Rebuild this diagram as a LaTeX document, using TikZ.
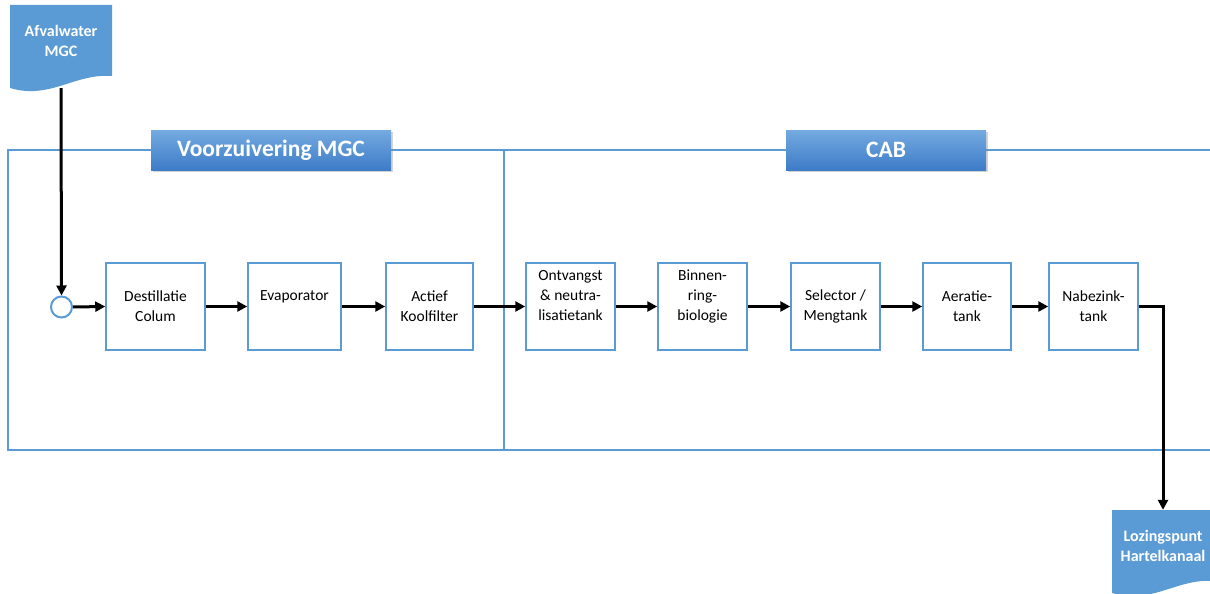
\documentclass[tikz,border=0pt]{standalone}
\usepackage{fontspec}
\setmainfont{Carlito}
\usetikzlibrary{arrows.meta,shadows}
\definecolor{docblue}{HTML}{5B9BD5}
\definecolor{lineblue}{HTML}{5B9BD5}
\definecolor{headtop}{HTML}{74AAE0}
\definecolor{headbot}{HTML}{3E7CC8}
\def\docshape(#1,#2){\fill[docblue] (#1,#2) -- ({#1+102},#2) -- ({#1+102},{#2+71}) .. controls ({#1+65},{#2+68}) and ({#1+40},{#2+95}) .. (#1,{#2+83}) -- cycle;}
\tikzset{
	stage/.style={draw=lineblue, line width=1.5pt, fill=white, minimum height=87pt, align=center, inner sep=2pt, font=\fontsize{15.5}{20}\selectfont},
	uptext/.style={text depth=22pt},
	header/.style={top color=headtop, bottom color=headbot, minimum height=40pt, text=white, font=\bfseries\fontsize{23.5}{28}\selectfont, drop shadow={opacity=0.35, shadow xshift=2pt, shadow yshift=-2pt}},
	docnode/.style={minimum width=102pt, minimum height=71pt, align=center, text=white, font=\bfseries\fontsize{16}{20}\selectfont},
	flow/.style={line width=3pt, -{Triangle[length=10pt,width=10pt]}},
	frame/.style={draw=lineblue, line width=2pt}
}

\begin{document}
\begin{tikzpicture}[x=1pt, y=-1pt]
			%%%%% START %%%%%
			\useasboundingbox (0,0) rectangle (1210,594);
			\clip (0,0) rectangle (1210,594);
			
			\draw[frame] (8,150) rectangle (1220,450);
			\draw[frame] (504,150) -- (504,450);
			
			\node[header, minimum width=240pt] (voorz) at (271,150) {Voorzuivering MGC};
			\node[header, minimum width=200pt] (cab) at (886,150) {CAB};
			
			\docshape(10,5)
			\node[docnode] (afval) at (61,40.5) {Afvalwater\\MGC};
			\docshape(1112,510)
			\node[docnode] (lozing) at (1163,545.5) {Lozingspunt\\Hartelkanaal};
			
			\node[circle, draw=lineblue, line width=2pt, fill=white, minimum size=21pt, inner sep=0pt] (inlet) at (61.5,307) {};
			
			\node[stage, minimum width=99pt] (destil) at (155.5,306.5) {Destillatie\\Colum};
			\node[stage, uptext, minimum width=93pt] (evap) at (294.5,306.5) {Evaporator};
			\node[stage, minimum width=87pt] (koolf) at (429.5,306.5) {Actief\\Koolfilter};
			\node[stage, uptext, minimum width=89pt] (ontv) at (570.5,306.5) {Ontvangst\\\& neutra-\\lisatietank};
			\node[stage, uptext, minimum width=89pt] (binnen) at (702.5,306.5) {Binnen-\\ring-\\biologie};
			\node[stage, minimum width=89pt] (select) at (835.5,306.5) {Selector /\\Mengtank};
			\node[stage, minimum width=88pt] (aerat) at (967,306.5) {Aeratie-\\tank};
			\node[stage, minimum width=89pt] (nabez) at (1093.5,306.5) {Nabezink-\\tank};
			
			\draw[flow] ([yshift=-12pt]afval.south) -- (inlet.north);
			\draw[flow] (inlet.east) -- (destil.west);
			\draw[flow] (destil.east) -- (evap.west);
			\draw[flow] (evap.east) -- (koolf.west);
			\draw[flow] (koolf.east) -- (ontv.west);
			\draw[flow] (ontv.east) -- (binnen.west);
			\draw[flow] (binnen.east) -- (select.west);
			\draw[flow] (select.east) -- (aerat.west);
			\draw[flow] (aerat.east) -- (nabez.west);
			\draw[flow] (nabez.east) -| (lozing.north);
			
			%%%%% END %%%%%
\end{tikzpicture}
\end{document}
